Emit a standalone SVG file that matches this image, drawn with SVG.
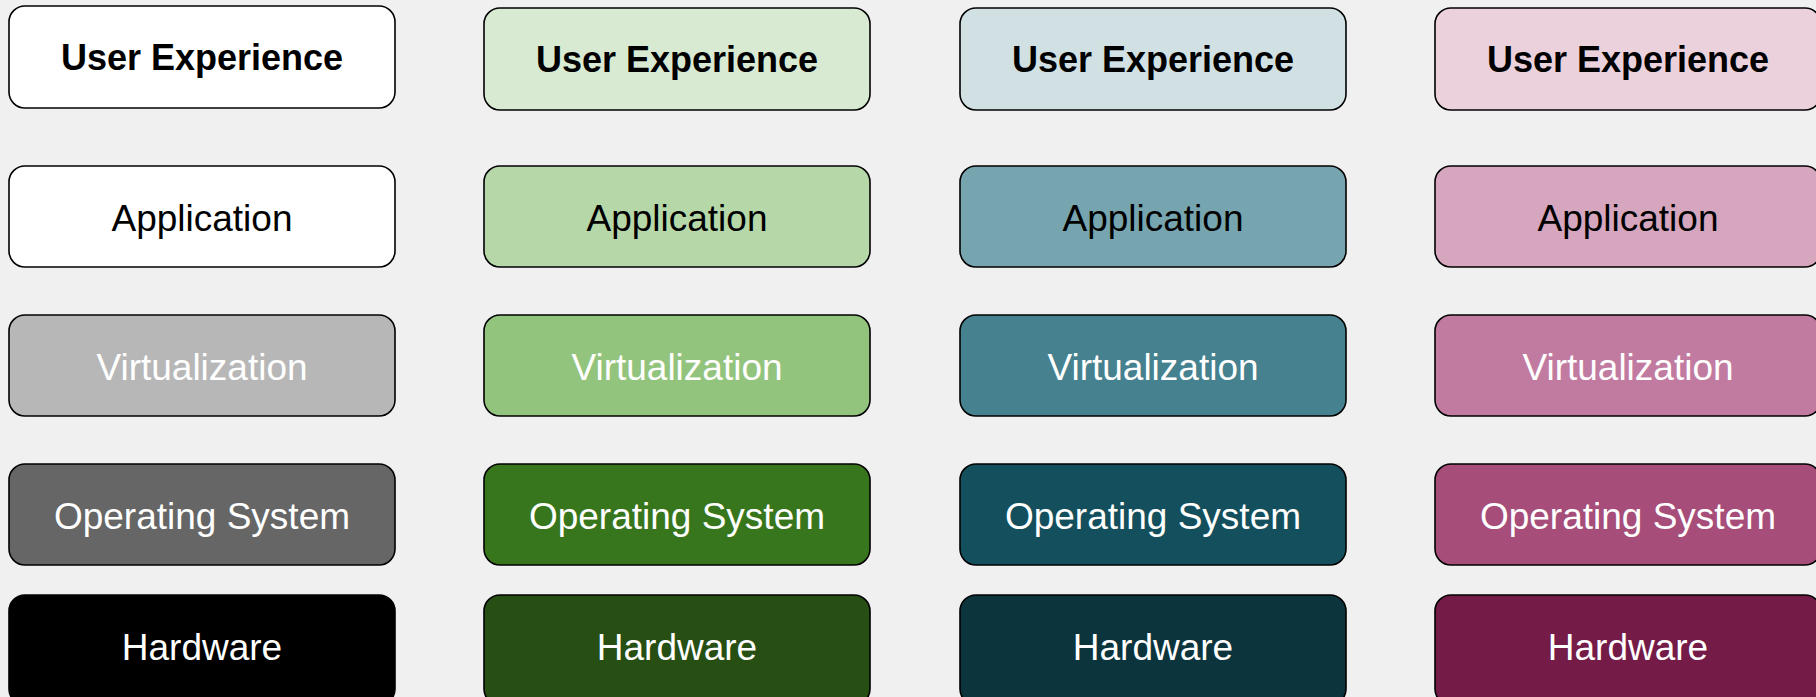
<svg xmlns="http://www.w3.org/2000/svg" width="1816" height="697" viewBox="0 0 1816 697">
<style>
.box{stroke:#000;stroke-width:1.6}
.t{font-family:"Liberation Sans",Arial,sans-serif;font-size:37px;text-anchor:middle}
.b{font-weight:bold;font-size:36px}
.dk{fill:#000}
.lt{fill:#fff}
</style>
<rect width="1816" height="697" fill="#f0f0f0"/>
<g id="c1-ux"><rect class="box" x="9" y="6" width="386" height="102" rx="16" fill="#ffffff"/><text class="t b dk" x="202" y="70">User Experience</text></g>
<g id="c1-app"><rect class="box" x="9" y="166" width="386" height="101" rx="16" fill="#ffffff"/><text class="t dk" x="202" y="231">Application</text></g>
<g id="c1-virt"><rect class="box" x="9" y="315" width="386" height="101" rx="16" fill="#b7b7b7"/><text class="t lt" x="202" y="380">Virtualization</text></g>
<g id="c1-os"><rect class="box" x="9" y="464" width="386" height="101" rx="16" fill="#666666"/><text class="t lt" x="202" y="529">Operating System</text></g>
<g id="c1-hw"><rect class="box" x="9" y="595" width="386" height="110" rx="16" fill="#000000"/><text class="t lt" x="202" y="660">Hardware</text></g>

<g id="c2-ux"><rect class="box" x="484" y="8" width="386" height="102" rx="16" fill="#d9ead3"/><text class="t b dk" x="677" y="72">User Experience</text></g>
<g id="c2-app"><rect class="box" x="484" y="166" width="386" height="101" rx="16" fill="#b6d7a8"/><text class="t dk" x="677" y="231">Application</text></g>
<g id="c2-virt"><rect class="box" x="484" y="315" width="386" height="101" rx="16" fill="#93c47d"/><text class="t lt" x="677" y="380">Virtualization</text></g>
<g id="c2-os"><rect class="box" x="484" y="464" width="386" height="101" rx="16" fill="#38761d"/><text class="t lt" x="677" y="529">Operating System</text></g>
<g id="c2-hw"><rect class="box" x="484" y="595" width="386" height="110" rx="16" fill="#274e13"/><text class="t lt" x="677" y="660">Hardware</text></g>

<g id="c3-ux"><rect class="box" x="960" y="8" width="386" height="102" rx="16" fill="#d0e0e3"/><text class="t b dk" x="1153" y="72">User Experience</text></g>
<g id="c3-app"><rect class="box" x="960" y="166" width="386" height="101" rx="16" fill="#76a5af"/><text class="t dk" x="1153" y="231">Application</text></g>
<g id="c3-virt"><rect class="box" x="960" y="315" width="386" height="101" rx="16" fill="#45818e"/><text class="t lt" x="1153" y="380">Virtualization</text></g>
<g id="c3-os"><rect class="box" x="960" y="464" width="386" height="101" rx="16" fill="#134f5c"/><text class="t lt" x="1153" y="529">Operating System</text></g>
<g id="c3-hw"><rect class="box" x="960" y="595" width="386" height="110" rx="16" fill="#0c343d"/><text class="t lt" x="1153" y="660">Hardware</text></g>

<g id="c4-ux"><rect class="box" x="1435" y="8" width="386" height="102" rx="16" fill="#ead1dc"/><text class="t b dk" x="1628" y="72">User Experience</text></g>
<g id="c4-app"><rect class="box" x="1435" y="166" width="386" height="101" rx="16" fill="#d5a6bd"/><text class="t dk" x="1628" y="231">Application</text></g>
<g id="c4-virt"><rect class="box" x="1435" y="315" width="386" height="101" rx="16" fill="#c27ba0"/><text class="t lt" x="1628" y="380">Virtualization</text></g>
<g id="c4-os"><rect class="box" x="1435" y="464" width="386" height="101" rx="16" fill="#a64d79"/><text class="t lt" x="1628" y="529">Operating System</text></g>
<g id="c4-hw"><rect class="box" x="1435" y="595" width="386" height="110" rx="16" fill="#741b47"/><text class="t lt" x="1628" y="660">Hardware</text></g>
<g id="connectors"/>
</svg>
